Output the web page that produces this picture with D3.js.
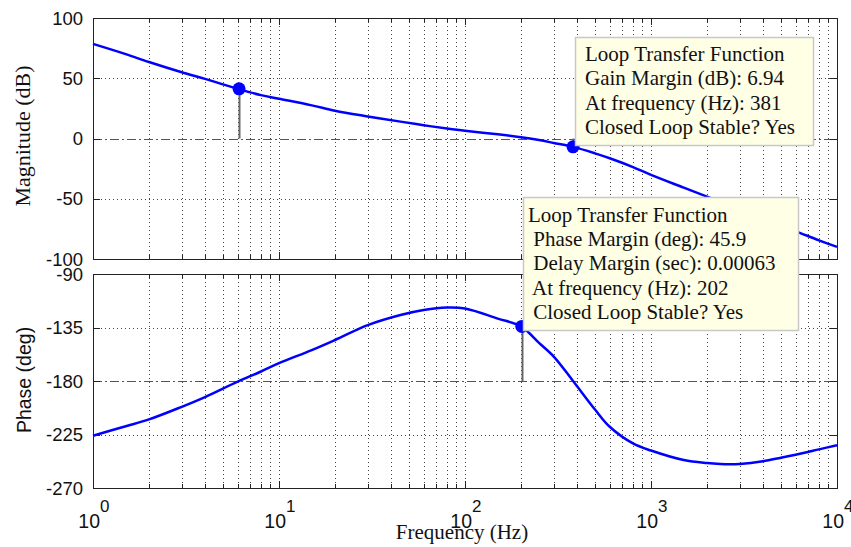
<!DOCTYPE html>
<html>
<head>
<meta charset="utf-8">
<script src="https://cdn.jsdelivr.net/npm/d3@7"></script>
<style>
  body { margin: 0; background: #fff; }
  svg { display: block; }
</style>
</head>
<body>
<div id="chart"></div>
<script>
// frequency response
var freq = [1, 1.5, 2, 3, 4, 6, 8, 10, 15, 20, 30, 45, 60, 80, 100, 150, 200, 250, 300, 381,
            500, 600, 800, 1000, 1500, 2000, 2500, 3000, 4000, 5000, 6500, 8000, 10000];
var magnitude = [78.5, 70, 63.5, 55, 49.5, 41.2, 36, 33, 27.5, 23, 18.3, 14, 11, 8.3, 6.4, 3.5, 1.1, -1.3, -3.7, -6.94,
                 -12.3, -16.4, -23.7, -30.2, -40.8, -48.3, -54, -58.9, -66.4, -72.2, -79.1, -84.5, -90];
var phase = [-226, -218, -212.3, -201.7, -193.5, -180.5, -172, -165, -154, -145.5, -133, -124.5, -120.3, -118.2, -119, -127.5, -134.1, -148, -159.5, -180,
             -204, -218.5, -232.5, -238.5, -246.5, -249, -250, -249.8, -247.5, -244.5, -240.8, -237.5, -234];

var magTicks = [-100, -50, 0, 50, 100];
var phaseTicks = [-270, -225, -180, -135, -90];
var decades = [0, 1, 2, 3, 4];

var magMarkers = [{ f: 6.1, v: 41.2 }, { f: 381, v: -6.94 }];
var phaseMarkers = [{ f: 202, v: -134.1 }];

var gainText = ["Loop Transfer Function", "Gain Margin (dB): 6.94", "At frequency (Hz): 381", "Closed Loop Stable? Yes"];
var phaseText = ["Loop Transfer Function", " Phase Margin (deg): 45.9", " Delay Margin (sec): 0.00063",
                 " At frequency (Hz): 202", " Closed Loop Stable? Yes"];

var W = 851, H = 547;
var svg = d3.select("#chart").append("svg")
    .attr("width", W)
    .attr("height", H);

var x = d3.scaleLog().domain([1, 1e4]).range([93, 837]);
var yMag = d3.scaleLinear().domain([-100, 100]).range([259, 18]);
var yPh = d3.scaleLinear().domain([-270, -90]).range([488, 274]);

var serif = "'Liberation Serif', 'Times New Roman', serif";
var sans = "'Liberation Sans', Arial, sans-serif";

function px(v) { return Math.round(v) + 0.5; }

function drawPanel(y, ticks, refValue, values, markers) {
    var g = svg.append("g");
    var top = y.range()[1], bot = y.range()[0];
    var left = x.range()[0], right = x.range()[1];
    var freqTicks = x.ticks();

    // dotted grid
    g.selectAll(".vgrid").data(freqTicks.filter(function (f) { return f > 1 && f < 1e4; }))
        .enter().append("line")
        .attr("x1", function (d) { return px(x(d)); })
        .attr("x2", function (d) { return px(x(d)); })
        .attr("y1", top).attr("y2", bot)
        .attr("stroke", "#444").attr("stroke-width", 1)
        .attr("stroke-dasharray", "1,3")
        .attr("shape-rendering", "crispEdges");
    g.selectAll(".hgrid").data(ticks.slice(1, -1).filter(function (t) { return t !== refValue; }))
        .enter().append("line")
        .attr("x1", left).attr("x2", right)
        .attr("y1", function (d) { return px(y(d)); })
        .attr("y2", function (d) { return px(y(d)); })
        .attr("stroke", "#444").attr("stroke-width", 1)
        .attr("stroke-dasharray", "1,3")
        .attr("shape-rendering", "crispEdges");

    // dash-dot reference line
    g.append("line")
        .attr("x1", left).attr("x2", right)
        .attr("y1", px(y(refValue))).attr("y2", px(y(refValue)))
        .attr("stroke", "#555").attr("stroke-width", 1)
        .attr("stroke-dasharray", "9,3,2,3")
        .attr("shape-rendering", "crispEdges");

    // tick marks, inward on all sides
    freqTicks.forEach(function (f) {
        var major = Math.abs(Math.log10(f) - Math.round(Math.log10(f))) < 1e-9;
        var len = major ? 7 : 4;
        var xx = px(x(f));
        g.append("line").attr("x1", xx).attr("x2", xx).attr("y1", bot).attr("y2", bot - len)
            .attr("stroke", "#222").attr("shape-rendering", "crispEdges");
        g.append("line").attr("x1", xx).attr("x2", xx).attr("y1", top).attr("y2", top + len)
            .attr("stroke", "#222").attr("shape-rendering", "crispEdges");
    });
    ticks.forEach(function (t) {
        var yy = px(y(t));
        g.append("line").attr("x1", left).attr("x2", left + 7).attr("y1", yy).attr("y2", yy)
            .attr("stroke", "#222").attr("shape-rendering", "crispEdges");
        g.append("line").attr("x1", right).attr("x2", right - 7).attr("y1", yy).attr("y2", yy)
            .attr("stroke", "#222").attr("shape-rendering", "crispEdges");
    });

    // tick labels
    g.selectAll(".ylab").data(ticks).enter().append("text")
        .attr("x", 83)
        .attr("y", function (d) { return y(d); })
        .attr("dy", "0.36em")
        .attr("text-anchor", "end")
        .style("font-family", sans)
        .style("font-size", "18.5px")
        .attr("fill", "#111")
        .text(function (d) { return d; });

    // stems from reference line to markers
    g.selectAll(".stem").data(markers).enter().append("line")
        .attr("x1", function (d) { return px(x(d.f)); })
        .attr("x2", function (d) { return px(x(d.f)); })
        .attr("y1", y(refValue))
        .attr("y2", function (d) { return y(d.v); })
        .attr("stroke", "#666").attr("stroke-width", 2);

    // curve
    var line = d3.line()
        .x(function (d, i) { return x(freq[i]); })
        .y(function (d) { return y(d); })
        .curve(d3.curveCatmullRom.alpha(0.5));
    g.append("path")
        .datum(values)
        .attr("d", line)
        .attr("fill", "none")
        .attr("stroke", "#0000ff")
        .attr("stroke-width", 2.5);

    g.selectAll(".marker").data(markers).enter().append("circle")
        .attr("cx", function (d) { return x(d.f); })
        .attr("cy", function (d) { return y(d.v); })
        .attr("r", 6.5)
        .attr("fill", "#0000ff");

    // frame
    g.append("rect")
        .attr("x", left + 0.5).attr("y", top + 0.5)
        .attr("width", right - left).attr("height", bot - top)
        .attr("fill", "none").attr("stroke", "#222").attr("stroke-width", 1)
        .attr("shape-rendering", "crispEdges");
}

drawPanel(yMag, magTicks, 0, magnitude, magMarkers);
drawPanel(yPh, phaseTicks, -180, phase, phaseMarkers);

// x tick labels 10^k
decades.forEach(function (d) {
    var xx = x(Math.pow(10, d));
    svg.append("text")
        .attr("x", xx + 7).attr("y", 528)
        .attr("text-anchor", "end")
        .style("font-family", sans).style("font-size", "19.5px")
        .attr("fill", "#111")
        .text("10");
    svg.append("text")
        .attr("x", xx + 7).attr("y", 512)
        .attr("text-anchor", "start")
        .style("font-family", sans).style("font-size", "17px")
        .attr("fill", "#111")
        .text(d);
});

// axis titles
svg.append("text")
    .attr("transform", "translate(22,136) rotate(-90)")
    .attr("text-anchor", "middle")
    .attr("dominant-baseline", "central")
    .style("font-family", serif).style("font-size", "22px")
    .attr("fill", "#111")
    .text("Magnitude (dB)");
svg.append("text")
    .attr("transform", "translate(24,380) rotate(-90)")
    .attr("text-anchor", "middle")
    .attr("dominant-baseline", "central")
    .style("font-family", sans).style("font-size", "19.5px")
    .attr("fill", "#111")
    .text("Phase (deg)");
svg.append("text")
    .attr("x", 462).attr("y", 539)
    .attr("text-anchor", "middle")
    .style("font-family", serif).style("font-size", "21px")
    .attr("fill", "#111")
    .text("Frequency (Hz)");

// data tip boxes
function dataTip(lines, bx, by, bw, bh, tx, firstBase, step) {
    var g = svg.append("g");
    g.append("rect")
        .attr("x", bx + 0.5).attr("y", by + 0.5)
        .attr("width", bw).attr("height", bh)
        .attr("fill", "#ffffe6")
        .attr("stroke", "#c8c8c8").attr("stroke-width", 1.5);
    g.selectAll("text").data(lines).enter().append("text")
        .attr("x", tx)
        .attr("y", function (d, i) { return firstBase + i * step; })
        .style("font-family", serif).style("font-size", "21px")
        .style("white-space", "pre")
        .attr("fill", "#111")
        .text(function (d) { return d; });
}
dataTip(gainText, 575, 37, 238, 108, 585, 60.5, 24.6);
dataTip(phaseText, 523, 197, 275, 133, 528, 222, 24.2);
</script>
</body>
</html>
